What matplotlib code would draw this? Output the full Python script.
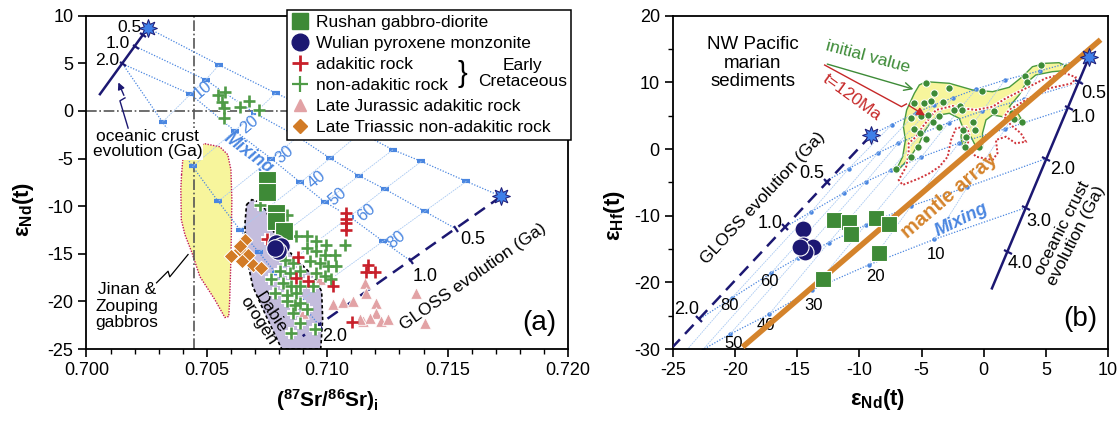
import matplotlib
matplotlib.use("Agg")
import matplotlib.pyplot as plt
from matplotlib.lines import Line2D
from matplotlib.markers import MarkerStyle
from matplotlib.transforms import Affine2D
from matplotlib.ticker import MultipleLocator, FormatStrFormatter

plt.rcParams["font.family"] = ["Liberation Sans", "DejaVu Sans"]
plt.rcParams["mathtext.fontset"] = "custom"
plt.rcParams["mathtext.rm"] = "Liberation Sans"
plt.rcParams["mathtext.it"] = "Liberation Sans:italic"
plt.rcParams["mathtext.bf"] = "Liberation Sans:bold"
plt.rcParams["axes.unicode_minus"] = False
plt.rcParams["axes.linewidth"] = 1.3

GREEN_SQ = "#3e8a37"
NAVY = "#1c1872"
RED = "#c8202a"
GREEN_PLUS = "#4f9b47"
PINK = "#e2a2a5"
ORANGE = "#d27b26"
MANTLE = "#d4832b"
MIX_BLUE = "#4a86e0"
ISO_BLUE = "#a9c9f2"
STAR_BLUE = "#3f7fe8"
YELLOW = "#f7f59c"
LAVENDER = "#c4bddd"

# ---------------- panel (a) : Sr-Nd ----------------
pct_labels = ["10", "20", "30", "40", "50", "60", "80"]

# mixing curves, points at 0,10,20,30,40,50,60,80,100 %
a_mix_1 = [(0.70255, 8.71), (0.70551, 4.83), (0.70786, 1.87), (0.70994, -0.51), (0.71139, -2.30),
           (0.71273, -4.08), (0.71391, -5.30), (0.71578, -7.40), (0.71723, -8.97)]
a_mix_2 = [(0.70205, 6.75), (0.70495, 3.26), (0.70699, -0.23), (0.70878, -2.71), (0.71012, -4.97),
           (0.71132, -6.80), (0.71239, -8.20), (0.71405, -10.55), (0.71536, -12.39)]
a_mix_3 = [(0.70150, 4.94), (0.70432, 1.76), (0.70616, -2.09), (0.70768, -5.02), (0.70889, -7.51),
           (0.70990, -9.56), (0.71093, -11.10), (0.71232, -13.69), (0.71349, -15.79)]
a_mix_4 = [(0.70150, 4.94), (0.70316, -1.17), (0.70441, -5.83), (0.70547, -9.50), (0.70637, -12.46),
           (0.70716, -14.84), (0.70786, -17.0), (0.70886, -19.98), (0.70969, -22.6)]
a_pct_pos = [(0.70485, 2.29), (0.70678, -1.46), (0.70824, -4.60), (0.70955, -7.22),
             (0.71045, -8.97), (0.71163, -10.71), (0.71287, -13.55)]

a_ocean_line = [(0.70255, 8.71), (0.70056, 1.76)]
a_ocean_ticks = [(0.70234, 7.95), (0.70205, 6.75), (0.70150, 4.94)]
a_ocean_labels = ["0.5", "1.0", "2.0"]
a_ocean_label_pos = [(0.70180, 8.75), (0.70129, 7.10), (0.70086, 5.25)]

a_gloss_line = [(0.71723, -8.97), (0.70898, -23.65)]
a_gloss_ticks = [(0.71536, -12.39), (0.71349, -15.79), (0.70969, -22.6)]
a_gloss_labels = ["0.5", "1.0", "2.0"]
a_gloss_label_pos = [(0.71604, -13.55), (0.71405, -17.39), (0.71031, -23.65)]

jinan_field = [(0.70395, -6.70), (0.70400, -5.13), (0.70429, -3.87), (0.70492, -3.45), (0.70554, -3.76),
               (0.70587, -4.60), (0.70600, -6.17), (0.70604, -9.32), (0.70600, -15.61), (0.70595, -19.80),
               (0.70591, -21.58), (0.70575, -21.69), (0.70533, -19.80), (0.70471, -17.39), (0.70438, -14.88),
               (0.70409, -12.99), (0.70394, -11.42), (0.70392, -8.17)]
dabie_field = [(0.70665, -9.84), (0.70687, -9.32), (0.70728, -9.63), (0.70753, -10.89), (0.70782, -12.99),
               (0.70865, -15.40), (0.70948, -17.50), (0.70977, -18.97), (0.70981, -21.90), (0.70973, -25.0),
               (0.70811, -25.0), (0.70749, -21.69), (0.70691, -18.44), (0.70665, -15.30), (0.70658, -11.94)]

jinan_pointer = [(0.70291, -18.05), (0.70339, -16.83), (0.70346, -17.42), (0.70422, -15.08)]
ocean_pointer = [(0.70173, -1.80), (0.70139, 1.06), (0.70160, 1.37), (0.70128, 3.26)]

sr_rushan = [0.70748, 0.70748, 0.70786, 0.70789, 0.70819]
nd_rushan = [-7.3, -8.5, -10.7, -11.6, -12.6]

sr_wulian = [0.70789, 0.70810, 0.70796, 0.70782]
nd_wulian = [-13.86, -14.21, -14.74, -14.38]

sr_adakitic = [0.70749, 0.70878, 0.70872, 0.70920, 0.71024, 0.71080, 0.71080, 0.71080, 0.71080,
               0.71163, 0.71197, 0.71168, 0.71102]
nd_adakitic = [-13.4, -15.3, -17.5, -17.9, -18.4, -10.7, -11.3, -11.8, -12.5,
               -16.9, -16.9, -16.2, -22.2]

sr_nonadakitic = [0.70547, 0.70575, 0.70561, 0.70571, 0.70571, 0.70637, 0.70676, 0.70717,
                  0.70720, 0.70831,
                  0.70872, 0.70914, 0.70955, 0.70997, 0.70914, 0.70955, 0.70990, 0.71031, 0.71073,
                  0.70824, 0.70858, 0.70927, 0.70969, 0.71003, 0.71038, 0.70803, 0.70844, 0.70886,
                  0.70955, 0.70990, 0.71017, 0.70768, 0.70817, 0.70851, 0.70886, 0.70941, 0.70782,
                  0.70831, 0.70872, 0.70831, 0.70865, 0.70886, 0.70858, 0.70914, 0.70886, 0.70851,
                  0.70948]
nd_nonadakitic = [1.69, 2.03, 0.99, 0.29, -0.75, 0.46, 1.06, 0.12,
                  -9.84, -10.9,
                  -13.17, -13.17, -13.69, -14.04, -14.38, -14.74, -15.08, -15.08, -14.04,
                  -15.61, -15.95, -15.79, -15.95, -16.31, -16.31, -16.83, -17.00, -16.83,
                  -17.00, -17.36, -17.70, -17.70, -18.05, -18.41, -18.41, -18.41, -19.10,
                  -19.28, -19.10, -19.98, -20.33, -20.15, -21.19, -20.85, -22.24, -23.29,
                  -22.95]

sr_jurassic = [0.70900, 0.70969, 0.71024, 0.71066, 0.71107, 0.71156, 0.71163, 0.71204, 0.71204,
               0.71225, 0.71149, 0.71176, 0.71252, 0.71370, 0.71405, 0.71135]
nd_jurassic = [-21.19, -17.70, -20.27, -20.08, -19.98, -18.05, -19.10, -20.15, -21.19,
               -22.07, -22.07, -21.72, -21.90, -19.10, -22.24, -21.90]

sr_triassic = [0.70658, 0.70637, 0.70671, 0.70602, 0.70644, 0.70692, 0.70727, 0.70637]
nd_triassic = [-13.59, -14.56, -15.08, -15.26, -15.79, -16.13, -16.48, -14.14]

# ---------------- panel (b) : Nd-Hf ----------------
b_mix_0 = [(8.47, 13.76), (4.56, 11.75), (1.70, 10.36), (-0.61, 8.98), (-2.48, 7.70),
           (-4.04, 6.58), (-5.41, 5.47), (-7.41, 3.64), (-9.05, 2.11)]
b_mix_1 = [(7.88, 10.10), (3.27, 7.51), (-0.10, 5.72), (-2.83, 3.95), (-5.05, 2.30),
           (-6.89, 0.85), (-8.50, -0.58), (-10.86, -2.93), (-12.80, -4.90)]
b_mix_2 = [(6.81, 6.11), (1.72, 3.02), (-2.00, 0.89), (-5.02, -1.21), (-7.46, -3.17),
           (-9.49, -4.90), (-11.27, -6.59), (-13.87, -9.40), (-16.01, -11.74)]
b_mix_3 = [(4.86, -1.54), (-1.32, -5.69), (-5.84, -8.54), (-9.51, -11.40), (-12.48, -14.05),
           (-14.97, -16.34), (-17.13, -18.64), (-20.29, -22.39), (-22.89, -25.54)]
b_mix_4 = [(3.39, -8.80), (-3.97, -13.54), (-9.27, -17.39), (-13.82, -21.14), (-17.27, -24.79),
           (-20.43, -27.79), (-22.6, -30.1), (-25.4, -33.4), (-27.6, -36.4)]
b_pct_pos = [(-3.84, -15.75), (-8.73, -19.15), (-13.66, -23.4), (-17.54, -26.54),
             (-20.16, -29.14), (-17.22, -19.9), (-20.43, -23.54)]

mantle_array = [(-19.4, -29.7), (9.4, 16.4)]

b_ocean_line = [(8.47, 13.76), (0.66, -20.9)]
b_ocean_ticks = [(7.65, 10.1), (6.85, 6.11), (5.02, -1.54), (3.39, -8.8), (1.95, -15.5)]
b_ocean_labels = ["0.5", "1.0", "2.0", "3.0", "4.0"]
b_ocean_label_pos = [(8.87, 8.36), (7.99, 4.76), (6.38, -3.14), (4.45, -10.9), (2.9, -17.1)]

b_gloss_line = [(-9.05, 2.11), (-25.0, -29.65)]
b_gloss_ticks = [(-12.6, -4.95), (-16.0, -11.72), (-22.9, -25.45)]
b_gloss_labels = ["0.5", "1.0", "2.0"]
b_gloss_label_pos = [(-13.87, -3.64), (-17.2, -11.14), (-23.9, -24.0)]

pacific_field = [(-7.05, -3.14), (-6.52, -1.15), (-6.30, 1.36), (-6.46, 3.35), (-6.20, 5.86), (-5.58, 8.36),
                 (-5.18, 9.61), (-4.64, 10.10), (-2.77, 9.86), (-0.90, 8.86), (0.71, 8.60), (2.05, 9.26),
                 (3.11, 10.85), (3.92, 12.35), (4.99, 12.86), (6.06, 12.95), (6.73, 12.35), (6.46, 11.75),
                 (5.52, 11.60), (4.19, 11.11), (3.39, 9.86), (2.85, 8.11), (2.05, 6.35), (2.58, 5.86),
                 (2.99, 4.61), (2.58, 4.10), (1.51, 4.85), (0.71, 5.11), (0.18, 4.36), (-0.10, 2.36),
                 (-0.10, 0.35), (-0.63, 0.35), (-1.03, 1.85), (-1.30, 1.36), (-1.70, 0.35), (-1.83, 1.85),
                 (-1.70, 3.35), (-1.97, 4.61), (-2.77, 5.36), (-3.57, 5.11), (-4.24, 4.10), (-4.78, 2.60),
                 (-5.18, 0.86), (-5.71, -0.64), (-6.38, -2.14), (-6.92, -3.25)]
pacific_t120 = [(-4.37, 4.61), (-3.84, 5.86), (-2.50, 6.46), (-1.70, 6.11), (-0.63, 5.86), (0.71, 6.35),
                (1.78, 7.61), (3.39, 9.11), (4.99, 10.61), (6.60, 11.36), (7.40, 10.76), (7.13, 9.86),
                (5.26, 9.11), (3.39, 7.36), (2.05, 5.86), (1.65, 4.85), (2.18, 3.61), (2.99, 2.36),
                (3.39, 1.10), (2.58, 0.86), (1.78, 1.85), (0.98, 1.36), (1.11, -0.64), (0.71, -1.64),
                (-0.63, -1.15), (-1.30, 0.35), (-1.16, 2.36), (-1.43, 3.35), (-2.23, 3.11), (-2.63, 1.36),
                (-2.90, -1.15), (-3.57, -2.65), (-4.37, -3.64), (-5.18, -4.39), (-6.52, -5.39),
                (-6.84, -4.64), (-6.24, -2.65), (-6.04, -0.64), (-6.04, 0.86), (-5.44, 1.85), (-4.91, 3.35)]
nd_pacific = [-4.64, -3.97, -2.82, -0.10, 3.33, 4.59, 6.60, 3.47, -5.58, -4.78, -4.24, -3.25, -1.90,
              -2.37, -1.78, 0.84, 2.31, 3.07, 2.45, -5.84, -5.04, -4.51, -3.57, -4.11, -3.57, -5.58,
              -5.10, -4.64, -5.31, -5.84, -7.05, -1.70, -1.44, -0.90, -0.68, -0.36, -1.48]
hf_pacific = [9.86, 8.45, 9.11, 8.75, 10.96, 12.61, 12.26, 10.10, 6.86, 6.86, 7.21, 7.10, 6.46,
              5.86, 5.86, 5.71, 5.45, 4.06, 4.51, 4.61, 4.96, 5.11, 4.96, 4.10, 3.26, 2.96,
              2.36, 1.46, 0.35, -1.24, -3.04, 2.86, 1.85, 4.10, 2.86, 0.26, 0.35]

initial_pointer = [(-12.8, 12.86), (-5.44, 8.86)]
t120_pointer = [(-12.8, 12.6), (-6.62, 6.35), (-6.22, 6.76), (-4.53, 4.8)]

nd_rushan_b = [-12.08, -10.85, -10.71, -8.65, -7.66, -8.44, -12.94]
hf_rushan_b = [-10.64, -10.90, -12.74, -10.39, -11.24, -15.64, -19.54]
nd_wulian_b = [-14.54, -14.54, -13.74, -14.41, -14.81]
hf_wulian_b = [-12.04, -14.39, -14.65, -15.40, -14.69]


def tick_marker(angle):
    return MarkerStyle("_", transform=Affine2D().rotate_deg(angle))


def xs(points):
    return [p[0] for p in points]


def ys(points):
    return [p[1] for p in points]


def draw_mixing(ax, curves, marker, ms, mew):
    for c in curves:
        ax.plot(xs(c), ys(c), ls=(0, (1, 1.3)), color=MIX_BLUE, lw=0.9, zorder=2)
        ax.plot(xs(c)[1:-1], ys(c)[1:-1], ls="none", marker=marker, ms=ms, mew=mew,
                color=MIX_BLUE, zorder=2)
    for i in range(1, len(curves[0]) - 1):
        ax.plot([c[i][0] for c in curves], [c[i][1] for c in curves], color=ISO_BLUE,
                lw=0.6, ls=(0, (2, 1)), zorder=2)


def draw_plus(ax, x, y, color, s=80):
    ax.scatter(x, y, marker="+", s=s, c="white", linewidths=4.2, zorder=4)
    ax.scatter(x, y, marker="+", s=s, c=color, linewidths=1.9, zorder=4.5)


def style_axes(ax):
    ax.tick_params(which="major", direction="out", length=6, width=1.2, labelsize=13)
    ax.tick_params(which="minor", direction="out", length=3.5, width=1.0)
    for sp in ax.spines.values():
        sp.set_linewidth(1.3)


def panel_a(ax):
    ax.set_xlim(0.700, 0.720)
    ax.set_ylim(-25, 10)
    ax.xaxis.set_major_locator(MultipleLocator(0.005))
    ax.xaxis.set_minor_locator(MultipleLocator(0.001))
    ax.xaxis.set_major_formatter(FormatStrFormatter("%.3f"))
    ax.yaxis.set_major_locator(MultipleLocator(5))
    style_axes(ax)

    ax.fill(xs(jinan_field), ys(jinan_field), facecolor=YELLOW, edgecolor="#c2185b",
            lw=1.0, ls=(0, (1, 1)), zorder=1)
    ax.fill(xs(dabie_field), ys(dabie_field), facecolor=LAVENDER, edgecolor="black",
            lw=1.2, ls=(0, (2, 1.5)), zorder=1)

    ax.axvline(0.70447, color="#555555", lw=1.2, ls="-.", zorder=1.5)
    ax.axhline(0, color="#555555", lw=1.2, ls="-.", zorder=1.5)

    draw_mixing(ax, [a_mix_1, a_mix_2, a_mix_3, a_mix_4], "_", 6, 3)
    for lab, (x, y) in zip(pct_labels, a_pct_pos):
        ax.text(x, y, lab, color=MIX_BLUE, fontsize=12, rotation=40, ha="center", va="center", zorder=3)
    ax.text(0.70674, -4.5, "Mixing", color=MIX_BLUE, fontsize=13, fontweight="bold", style="italic",
            rotation=-37, ha="center", va="center", zorder=3)

    ax.plot(xs(a_ocean_line), ys(a_ocean_line), color=NAVY, lw=1.8, zorder=4)
    ax.plot(xs(a_ocean_ticks), ys(a_ocean_ticks), ls="none", marker=tick_marker(144), ms=6,
            mew=1.6, color=NAVY, zorder=4)
    for lab, (x, y) in zip(a_ocean_labels, a_ocean_label_pos):
        ax.text(x, y, lab, fontsize=12.5, ha="center", va="center", zorder=4)

    ax.plot(xs(a_gloss_line), ys(a_gloss_line), color=NAVY, lw=1.8, ls=(0, (5, 3)), zorder=4)
    ax.plot(xs(a_gloss_ticks), ys(a_gloss_ticks), ls="none", marker=tick_marker(125), ms=6,
            mew=1.6, color=NAVY, zorder=4)
    for lab, (x, y) in zip(a_gloss_labels, a_gloss_label_pos):
        ax.text(x, y, lab, fontsize=13, ha="center", va="center", zorder=4)
    ax.plot([a_mix_1[0][0], a_mix_1[-1][0]], [a_mix_1[0][1], a_mix_1[-1][1]], ls="none",
            marker=(8, 1, 0), ms=13, mfc=STAR_BLUE, mec=NAVY, mew=0.7, zorder=6)

    ax.text(0.71608, -17.39, "GLOSS evolution (Ga)", fontsize=12.5, rotation=35,
            ha="center", va="center", zorder=4)
    ax.text(0.70255, -3.46, "oceanic crust\nevolution (Ga)", fontsize=12.5, ha="center",
            va="center", linespacing=1.05, zorder=4,
            bbox=dict(facecolor="white", edgecolor="none", pad=0.5))
    ax.plot(xs(ocean_pointer)[:3], ys(ocean_pointer)[:3], color=NAVY, lw=1.0, zorder=4)
    ax.annotate("", xy=ocean_pointer[3], xytext=ocean_pointer[2],
                arrowprops=dict(arrowstyle="-|>", color=NAVY, lw=1.0, mutation_scale=10), zorder=4)
    ax.text(0.70168, -20.5, "Jinan &\nZouping\ngabbros", fontsize=12.5, ha="center",
            va="center", linespacing=1.12, zorder=4)
    ax.plot(xs(jinan_pointer), ys(jinan_pointer), color="black", lw=0.9, zorder=4)
    ax.text(0.70741, -21.6, "Dabie\norogen", fontsize=12.5, rotation=-57, ha="center",
            va="center", linespacing=1.0, zorder=4)

    ax.scatter(sr_jurassic, nd_jurassic, marker="^", s=70, c=PINK, edgecolors="white",
               linewidths=0.6, zorder=4)
    ax.scatter(sr_triassic, nd_triassic, marker="D", s=55, c=ORANGE, edgecolors="white",
               linewidths=0.7, zorder=4)
    draw_plus(ax, sr_nonadakitic, nd_nonadakitic, GREEN_PLUS)
    draw_plus(ax, sr_adakitic, nd_adakitic, RED)
    ax.scatter(sr_rushan, nd_rushan, marker="s", s=150, c=GREEN_SQ, edgecolors="white",
               linewidths=0.8, zorder=5)
    ax.scatter(sr_wulian, nd_wulian, marker="o", s=160, c=NAVY, edgecolors="white",
               linewidths=0.8, zorder=5.5)

    handles = [
        Line2D([], [], ls="none", marker="s", ms=11, color=GREEN_SQ),
        Line2D([], [], ls="none", marker="o", ms=12, color=NAVY),
        Line2D([], [], ls="none", marker="+", ms=11, mew=2, color=RED),
        Line2D([], [], ls="none", marker="+", ms=11, mew=1.6, color=GREEN_PLUS),
        Line2D([], [], ls="none", marker="^", ms=9, color=PINK),
        Line2D([], [], ls="none", marker="D", ms=7, color=ORANGE),
    ]
    labels = ["Rushan gabbro-diorite", "Wulian pyroxene monzonite", "adakitic rock",
              "non-adakitic rock", "Late Jurassic adakitic rock", "Late Triassic non-adakitic rock"]
    leg = ax.legend(handles, labels, loc="upper left", bbox_to_anchor=(0.417, 0.62, 0.59, 0.397),
                    mode="expand", borderaxespad=0, fontsize=12.5, handlelength=0.9,
                    handletextpad=0.45, labelspacing=0.33, borderpad=0.3, frameon=True,
                    fancybox=False, framealpha=1, edgecolor="black")
    leg.get_frame().set_linewidth(1.1)
    leg.set_zorder(20)
    ax.text(0.781, 0.826, "}", transform=ax.transAxes, fontsize=21, ha="center", va="center",
            zorder=21)
    ax.text(0.905, 0.826, "Early\nCretaceous", transform=ax.transAxes, fontsize=12.5,
            ha="center", va="center", linespacing=1.1, zorder=21)

    ax.text(0.975, 0.04, "(a)", transform=ax.transAxes, fontsize=20, ha="right", va="bottom", zorder=6)
    ax.set_xlabel(r"($^{\mathbf{87}}$Sr/$^{\mathbf{86}}$Sr)$_{\mathbf{i}}$", fontsize=15,
                  fontweight="bold")
    ax.xaxis.set_label_coords(0.5, -0.115)
    ax.set_ylabel(r"ε$_{\mathbf{Nd}}$(t)", fontsize=16, fontweight="bold")
    ax.yaxis.set_label_coords(-0.105, 0.42)


def panel_b(ax):
    ax.set_xlim(-25, 10)
    ax.set_ylim(-30, 20)
    ax.xaxis.set_major_locator(MultipleLocator(5))
    ax.yaxis.set_major_locator(MultipleLocator(10))
    ax.yaxis.set_minor_locator(MultipleLocator(5))
    style_axes(ax)

    ax.fill(xs(pacific_field), ys(pacific_field), facecolor=YELLOW, edgecolor="#4a9a3f",
            lw=1.0, zorder=1)

    draw_mixing(ax, [b_mix_0, b_mix_1, b_mix_2, b_mix_3, b_mix_4], "o", 3.2, 0)
    for lab, (x, y) in zip(pct_labels, b_pct_pos):
        ax.text(x, y, lab, fontsize=12, ha="center", va="center", zorder=3)

    ax.fill(xs(pacific_t120), ys(pacific_t120), facecolor="none", edgecolor="white",
            lw=2.4, zorder=2.5)
    ax.fill(xs(pacific_t120), ys(pacific_t120), facecolor="none", edgecolor="#d0343a",
            lw=1.4, ls=(0, (1, 1)), zorder=2.6)
    ax.scatter(nd_pacific, hf_pacific, s=28, c="#3d8b37", edgecolors="white", linewidths=0.7,
               zorder=2.7)

    ax.plot(xs(mantle_array), ys(mantle_array), color=MANTLE, lw=4, solid_capstyle="butt", zorder=3)
    ax.text(-2.77, -7.05, "mantle array", color=MANTLE, fontsize=14.5, fontweight="bold",
            rotation=40.6, ha="center", va="center", zorder=3)
    ax.text(-1.77, -10.64, "Mixing", color=MIX_BLUE, fontsize=13, fontweight="bold", style="italic",
            rotation=26, ha="center", va="center", zorder=3)

    ax.plot(xs(b_ocean_line), ys(b_ocean_line), color=NAVY, lw=1.8, zorder=4)
    ax.plot(xs(b_ocean_ticks), ys(b_ocean_ticks), ls="none", marker=tick_marker(157), ms=6,
            mew=1.6, color=NAVY, zorder=4)
    for lab, (x, y) in zip(b_ocean_labels, b_ocean_label_pos):
        ax.text(x, y, lab, fontsize=13, ha="center", va="center", zorder=4)
    ax.text(6.86, -12.44, "oceanic crust\nevolution (Ga)", fontsize=12.5, rotation=63,
            ha="center", va="center", linespacing=1.05, zorder=4)

    ax.plot(xs(b_gloss_line), ys(b_gloss_line), color=NAVY, lw=1.8, ls=(0, (5, 3)), zorder=4)
    ax.plot(xs(b_gloss_ticks), ys(b_gloss_ticks), ls="none", marker=tick_marker(137), ms=6,
            mew=1.6, color=NAVY, zorder=4)
    for lab, (x, y) in zip(b_gloss_labels, b_gloss_label_pos):
        ax.text(x, y, lab, fontsize=13, ha="center", va="center", zorder=4)
    ax.text(-17.75, -7.39, "GLOSS evolution (Ga)", fontsize=12.5, rotation=47,
            ha="center", va="center", zorder=4)
    ax.plot([b_mix_0[0][0], b_mix_0[-1][0]], [b_mix_0[0][1], b_mix_0[-1][1]], ls="none",
            marker=(8, 1, 0), ms=13, mfc=STAR_BLUE, mec=NAVY, mew=0.7, zorder=6)

    ax.text(-18.6, 12.86, "NW Pacific\nmarian\nsediments", fontsize=13.5, ha="center",
            va="center", linespacing=1.1, zorder=4)
    ax.text(-9.3, 13.9, "initial value", color="#3d8b37", fontsize=12.5, rotation=-15,
            ha="center", va="center", zorder=4)
    ax.annotate("", xy=initial_pointer[1], xytext=initial_pointer[0],
                arrowprops=dict(arrowstyle="->", color="#3d8b37", lw=1.0, mutation_scale=14), zorder=4)
    ax.text(-10.6, 7.7, "t=120Ma", color="#c62828", fontsize=12.5, rotation=-36,
            ha="center", va="center", zorder=4)
    ax.plot(xs(t120_pointer)[:3], ys(t120_pointer)[:3], color="#c62828", lw=1.0, zorder=4)
    ax.annotate("", xy=t120_pointer[3], xytext=t120_pointer[2],
                arrowprops=dict(arrowstyle="-|>", color="#c62828", lw=1.0, mutation_scale=12), zorder=4)

    ax.scatter(nd_rushan_b, hf_rushan_b, marker="s", s=140, c=GREEN_SQ, edgecolors="white",
               linewidths=0.8, zorder=5)
    ax.scatter(nd_wulian_b, hf_wulian_b, marker="o", s=150, c=NAVY, edgecolors="white",
               linewidths=0.8, zorder=5.5)

    ax.text(0.975, 0.05, "(b)", transform=ax.transAxes, fontsize=20, ha="right", va="bottom", zorder=6)
    ax.set_xlabel(r"ε$_{\mathbf{Nd}}$(t)", fontsize=16, fontweight="bold")
    ax.xaxis.set_label_coords(0.47, -0.115)
    ax.set_ylabel(r"ε$_{\mathbf{Hf}}$(t)", fontsize=16, fontweight="bold")
    ax.yaxis.set_label_coords(-0.106, 0.40)


fig = plt.figure(figsize=(11.2, 4.23), dpi=100)
ax1 = fig.add_axes([0.0772, 0.1749, 0.4299, 0.7880])
ax2 = fig.add_axes([0.6009, 0.1749, 0.3884, 0.7880])
panel_a(ax1)
panel_b(ax2)
fig.savefig("out.png", dpi=100)
